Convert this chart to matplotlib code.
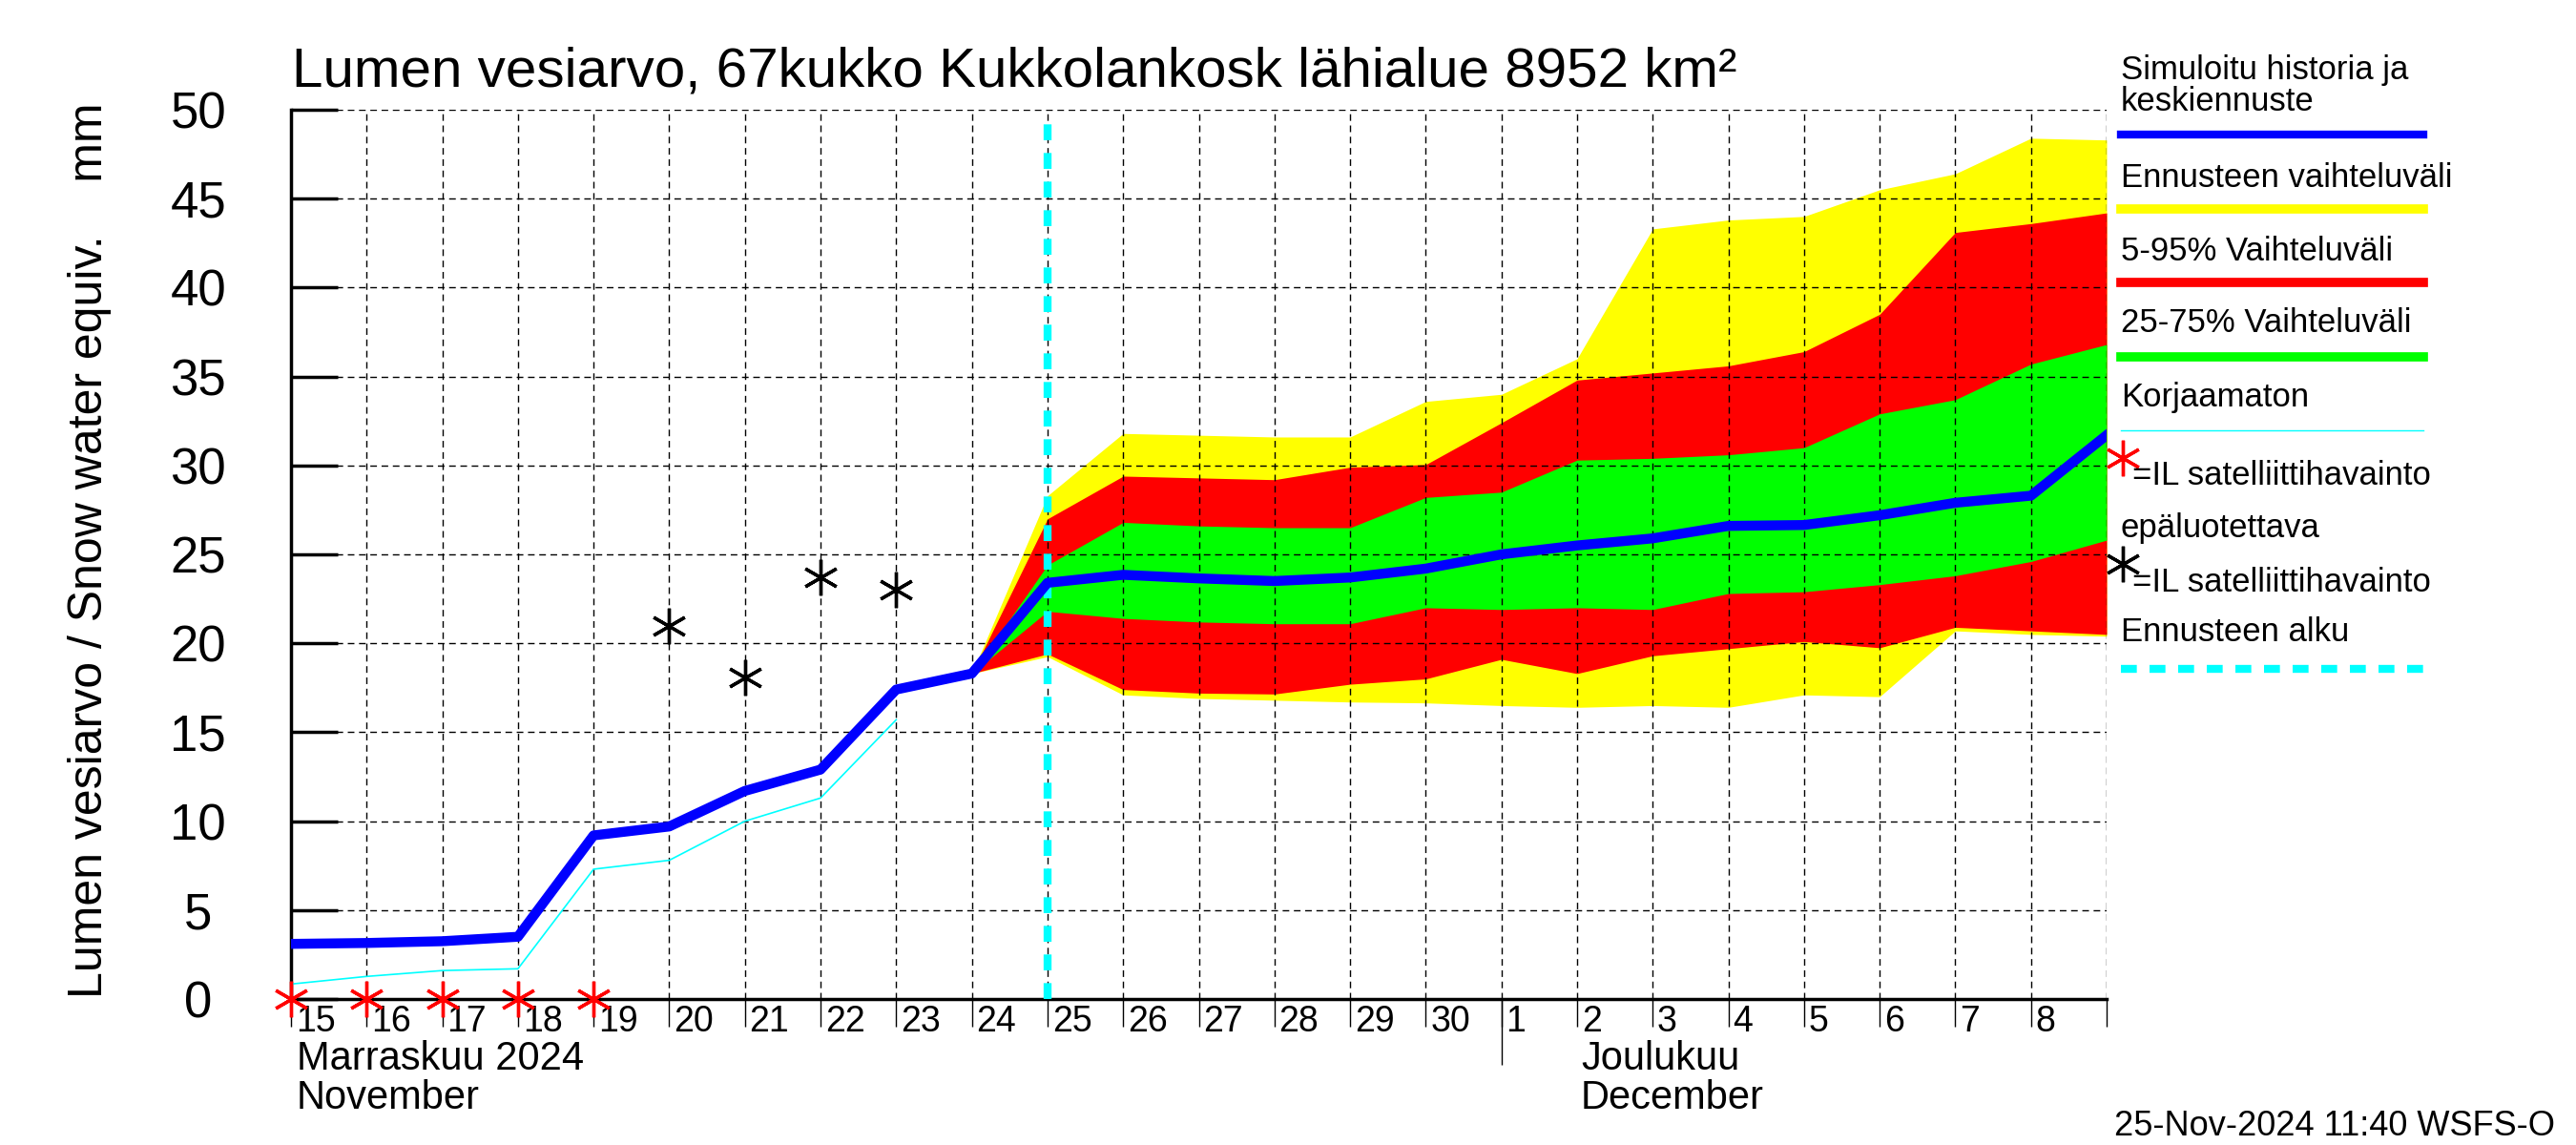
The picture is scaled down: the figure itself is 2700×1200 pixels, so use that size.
#============================================
# snow water equivalent forecast chart (Kukkolankoski)

import numpy as np
import matplotlib
matplotlib.use('Agg')
from matplotlib import pyplot as plt
from matplotlib.lines import Line2D

# fonts: narrow if there is one, normal width for the legend
narrow = ['Liberation Sans Narrow', 'Liberation Sans', 'DejaVu Sans']
wide = ['Liberation Sans', 'DejaVu Sans']
plt.rcParams['font.family'] = narrow

# day 0 = 15 Nov 2024, day 24 = 9 Dec 2024
day_labels = [str(d) for d in range(15, 31)] + [str(d) for d in range(1, 9)]
month_start = 16  # 1 Dec
forecast_start = 10  # 25 Nov

# simulated history and mean forecast, days 0..24
sim = [3.1, 3.15, 3.25, 3.5, 9.2, 9.7, 11.7, 12.9, 17.4, 18.3,
       23.4, 23.85, 23.65, 23.5, 23.7, 24.2, 25.0, 25.5, 25.9, 26.6,
       26.65, 27.2, 27.9, 28.3, 31.7]
# uncorrected, days 0..8
korjaamaton = [0.84, 1.27, 1.6, 1.7, 7.3, 7.8, 10.0, 11.3, 15.7]

# forecast ranges, days 9..24
ens_max = [18.3, 28.3, 31.8, 31.7, 31.6, 31.6, 33.6, 34.0, 36.0, 43.3, 43.8, 44.0, 45.5, 46.4, 48.4, 48.3]
p95 = [18.3, 27.0, 29.4, 29.3, 29.2, 29.9, 30.05, 32.4, 34.8, 35.2, 35.6, 36.4, 38.5, 43.1, 43.6, 44.2]
p75 = [18.3, 24.4, 26.8, 26.6, 26.5, 26.5, 28.2, 28.5, 30.3, 30.4, 30.6, 31.0, 32.9, 33.7, 35.7, 36.8]
p25 = [18.3, 21.8, 21.4, 21.2, 21.1, 21.1, 22.0, 21.9, 22.0, 21.9, 22.8, 22.9, 23.3, 23.8, 24.6, 25.8]
p5 = [18.3, 19.4, 17.4, 17.2, 17.15, 17.7, 18.0, 19.1, 18.3, 19.3, 19.7, 20.1, 19.75, 20.9, 20.7, 20.5]
ens_min = [18.3, 19.25, 17.1, 16.9, 16.8, 16.7, 16.65, 16.5, 16.4, 16.5, 16.4, 17.1, 17.0, 20.7, 20.5, 20.4]

# satellite observations
sat_bad_days = [0, 1, 2, 3, 4]
sat_bad_vals = [0, 0, 0, 0, 0]
sat_days = [5, 6, 7, 8]
sat_vals = [21.0, 18.1, 23.7, 23.0]

days = np.arange(len(sim))
hist_days = np.arange(len(korjaamaton))
fc_days = np.arange(9, 9 + len(ens_max))

star = (6, 2, 0)
cyan_dash = (0, (2.0, 1.6))

fig = plt.figure(figsize=(27, 12), dpi=100)
ax = fig.add_axes([305 / 2700, 1 - 1047 / 1200, 1903 / 2700, 932 / 1200])

# the bands
ax.fill_between(fc_days, ens_min, ens_max, color='#ffff00', lw=0, zorder=1)
ax.fill_between(fc_days, p5, p95, color='#ff0000', lw=0, zorder=1.1)
ax.fill_between(fc_days, p25, p75, color='#00ff00', lw=0, zorder=1.2)

ax.plot(hist_days, korjaamaton, color='#00ffff', lw=1.2, zorder=3)
ax.plot([forecast_start, forecast_start], [0, 49.4], color='#00ffff', lw=6,
        linestyle=cyan_dash, zorder=3.5)
ax.plot(days, sim, color='#0000ff', lw=7.5, zorder=4)

ax.plot(sat_days, sat_vals, linestyle='none', marker=star, ms=27, mew=2.4,
        color='black', zorder=5)
ax.plot(sat_bad_days, sat_bad_vals, linestyle='none', marker=star, ms=27, mew=2.4,
        color='red', zorder=5, clip_on=False)

# axes setup
ax.set_xlim(0, 24)
ax.set_ylim(0, 50)
ax.set_yticks(range(0, 51, 5))
ax.set_xticks(range(0, 25))
ax.set_xticklabels([])
ax.set_xticks([month_start], minor=True)
ax.xaxis.remove_overlapping_locs = False
ax.tick_params(axis='x', which='major', direction='out', length=21, width=1)
ax.tick_params(axis='x', which='minor', direction='out', length=50, width=1)
ax.tick_params(axis='y', direction='in', length=35, width=2.5, pad=70, labelsize=38)
for lab in ax.get_yticklabels():
    lab.set_horizontalalignment('center')
ax.set_axisbelow(False)
ax.grid(True, color='black', linestyle=(0, (5, 3.5)), lw=1.0)
for side in ['top', 'right']:
    ax.spines[side].set_visible(False)
for side in ['left', 'bottom']:
    ax.spines[side].set_linewidth(2.5)

# day labels sit just right of each tick
xt = ax.get_xaxis_transform()
for i, lab in enumerate(day_labels):
    ax.text(i + 0.06, -0.037, lab, transform=xt, ha='left', va='baseline', fontsize=27)
ax.text(0.07, -0.079, 'Marraskuu 2024', transform=xt, ha='left', va='baseline', fontsize=30)
ax.text(0.07, -0.123, 'November', transform=xt, ha='left', va='baseline', fontsize=30)
ax.text(17.05, -0.079, 'Joulukuu', transform=xt, ha='left', va='baseline', fontsize=30)
ax.text(17.05, -0.123, 'December', transform=xt, ha='left', va='baseline', fontsize=30)

fig.text(306 / 2700, 1 - 91 / 1200, 'Lumen vesiarvo, 67kukko Kukkolankosk lähialue 8952 km²',
         ha='left', va='baseline', fontsize=42)
fig.text(0.035, 0.519, 'Lumen vesiarvo / Snow water equiv.    mm', rotation=90,
         ha='center', va='center', fontsize=36)
fig.text(0.992, 1 - 1190 / 1200, '25-Nov-2024 11:40 WSFS-O', ha='right',
         va='baseline', fontsize=26)

# legend on the right
lx0, lx1 = 2223 / 2700, 2540 / 2700


def fy(y):
    return 1 - y / 1200


def legend_text(y, s, x=lx0):
    fig.text(x, fy(y), s, ha='left', va='center', fontsize=25, family=wide)


def legend_line(y, **kw):
    fig.add_artist(Line2D([lx0, lx1], [fy(y), fy(y)], transform=fig.transFigure, **kw))


legend_text(74, 'Simuloitu historia ja')
legend_text(107, 'keskiennuste')
legend_line(141, color='#0000ff', lw=6)
legend_text(186, 'Ennusteen vaihteluväli')
legend_line(219, color='#ffff00', lw=7)
legend_text(263, '5-95% Vaihteluväli')
legend_line(296, color='#ff0000', lw=7)
legend_text(339, '25-75% Vaihteluväli')
legend_line(374, color='#00ff00', lw=7)
legend_text(417, 'Korjaamaton')
legend_line(451, color='#00ffff', lw=1)
fig.add_artist(Line2D([2225 / 2700], [fy(480)], transform=fig.transFigure, linestyle='none',
                      marker=star, ms=27, mew=2.4, color='red'))
legend_text(498, '=IL satelliittihavainto', x=2235 / 2700)
legend_text(553, 'epäluotettava')
fig.add_artist(Line2D([2225 / 2700], [fy(591)], transform=fig.transFigure, linestyle='none',
                      marker=star, ms=27, mew=2.4, color='black'))
legend_text(610, '=IL satelliittihavainto', x=2235 / 2700)
legend_text(663, 'Ennusteen alku')
legend_line(701, color='#00ffff', lw=6, linestyle=cyan_dash)

fig.savefig('out.png', dpi=100)
